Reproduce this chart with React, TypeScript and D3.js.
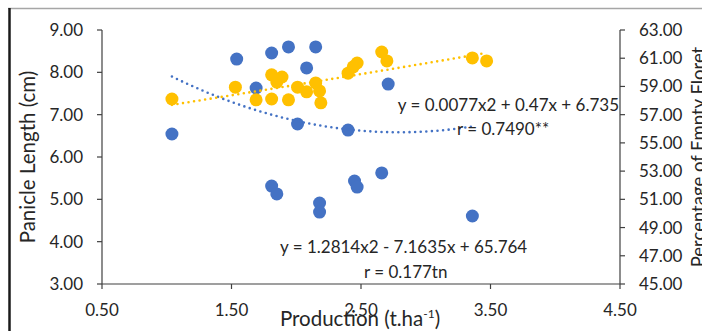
import React from "react";
import * as d3 from "d3";

// Panicle length (left axis, yellow)
const panicleX = [1.04, 1.53, 1.69, 1.81, 1.81, 1.89, 1.85, 1.94, 2.01, 2.08, 2.15, 2.18, 2.19, 2.40, 2.44, 2.47, 2.66, 2.70, 3.36, 3.47];
const panicleY = [7.37, 7.65, 7.35, 7.94, 7.37, 7.89, 7.77, 7.35, 7.65, 7.54, 7.75, 7.56, 7.28, 7.98, 8.13, 8.22, 8.48, 8.27, 8.34, 8.27];

// Percentage of empty floret (right axis, blue)
const floretX = [1.04, 1.54, 1.81, 1.94, 2.15, 2.08, 1.69, 2.01, 2.71, 2.40, 1.81, 1.85, 2.18, 2.18, 2.45, 2.47, 2.66, 3.36];
const floretY = [55.63, 60.94, 61.37, 61.8, 61.8, 60.31, 58.89, 56.34, 59.17, 55.91, 51.94, 51.38, 50.74, 50.1, 52.3, 51.87, 52.87, 49.82];

// Trendline coefficients [a, b, c] for a*x^2 + b*x + c
const panicleTrend = [0.0077, 0.47, 6.735];
const floretTrend = [1.2814, -7.1635, 65.764];

const xTicks = [0.5, 1.5, 2.5, 3.5, 4.5];
const leftTicks = [3, 4, 5, 6, 7, 8, 9];
const rightTicks = [45, 47, 49, 51, 53, 55, 57, 59, 61, 63];

const eqPanicle = "y = 0.0077x2 + 0.47x + 6.735";
const rPanicle = "r = 0.7490**";
const eqFloret = "y = 1.2814x2 - 7.1635x + 65.764";
const rFloret = "r = 0.177tn";

const BLUE = "#4472C4";
const YELLOW = "#FFC000";
const AXIS = "#404040";
const TEXT = "#262626";
const FONT = "Lato, 'Open Sans', sans-serif";

export default function App() {
  const x = d3.scaleLinear().domain([0.5, 4.5]).range([102, 620]);
  const yL = d3.scaleLinear().domain([3, 9]).range([284, 30]);
  const yR = d3.scaleLinear().domain([45, 63]).range([284, 30]);

  const quad = (c: number[]) => (v: number) => c[0] * v * v + c[1] * v + c[2];
  const trendPath = (xs: number[], c: number[], ys: d3.ScaleLinear<number, number>) => {
    const lo = d3.min(xs) as number;
    const hi = d3.max(xs) as number;
    const pts = d3.range(0, 101).map((i) => lo + ((hi - lo) * i) / 100);
    const f = quad(c);
    return d3
      .line<number>()
      .x((v) => x(v))
      .y((v) => ys(f(v)))(pts) as string;
  };

  const fs = 17;

  return (
    <svg
      width={702}
      height={331}
      style={{ position: "absolute", left: 0, top: 0, background: "#fff" }}
      fontFamily={FONT}
    >
      <rect x={0} y={0} width={702} height={331} fill="#fff" />
      {/* outer frame */}
      <line x1={8} x2={702} y1={8.5} y2={8.5} stroke="#a6a6a6" strokeWidth={1.5} />
      <line x1={9.5} x2={9.5} y1={8} y2={331} stroke="#1a1a1a" strokeWidth={2.5} />

      {/* axes */}
      <line x1={x(0.5)} x2={x(0.5)} y1={yL(9)} y2={yL(3)} stroke={AXIS} strokeWidth={1.2} />
      <line x1={x(4.5)} x2={x(4.5)} y1={yR(63)} y2={yR(45)} stroke={AXIS} strokeWidth={1.2} />
      <line x1={x(0.5)} x2={x(4.5)} y1={yL(3)} y2={yL(3)} stroke={AXIS} strokeWidth={1.2} />

      {leftTicks.map((t) => (
        <g key={"l" + t}>
          <line x1={x(0.5) - 5} x2={x(0.5)} y1={yL(t)} y2={yL(t)} stroke={AXIS} strokeWidth={1.2} />
          <text x={83} y={yL(t)} dy="0.35em" textAnchor="end" fontSize={fs} fill={TEXT}>
            {t.toFixed(2)}
          </text>
        </g>
      ))}
      {rightTicks.map((t) => (
        <g key={"r" + t}>
          <line x1={x(4.5)} x2={x(4.5) + 5} y1={yR(t)} y2={yR(t)} stroke={AXIS} strokeWidth={1.2} />
          <text x={639} y={yR(t)} dy="0.35em" textAnchor="start" fontSize={fs} fill={TEXT}>
            {t.toFixed(2)}
          </text>
        </g>
      ))}
      {xTicks.map((t) => (
        <g key={"x" + t}>
          <line x1={x(t)} x2={x(t)} y1={yL(3)} y2={yL(3) + 5} stroke={AXIS} strokeWidth={1.2} />
          <text x={x(t)} y={316} textAnchor="middle" fontSize={fs} fill={TEXT}>
            {t.toFixed(2)}
          </text>
        </g>
      ))}

      {/* axis titles */}
      <text
        transform={`translate(35,157) rotate(-90)`}
        textAnchor="middle"
        fontSize={20.5}
        fill={TEXT}
      >
        Panicle Length (cm)
      </text>
      <text
        transform={`translate(705,157) rotate(-90)`}
        textAnchor="middle"
        fontSize={18.5}
        fill={TEXT}
      >
        Percentage of Empty Floret
      </text>
      <text x={360} y={326} textAnchor="middle" fontSize={20.5} fill={TEXT}>
        Production (t.ha
        <tspan fontSize={12} dy={-8}>-1</tspan>
        <tspan dy={8}>)</tspan>
      </text>

      {/* points */}
      {floretX.map((v, i) => (
        <circle key={"b" + i} cx={x(v)} cy={yR(floretY[i])} r={6.5} fill={BLUE} />
      ))}
      {panicleX.map((v, i) => (
        <circle key={"y" + i} cx={x(v)} cy={yL(panicleY[i])} r={6.5} fill={YELLOW} />
      ))}

      {/* trendlines */}
      <path
        d={trendPath(floretX, floretTrend, yR)}
        fill="none"
        stroke={BLUE}
        strokeWidth={2.6}
        strokeLinecap="round"
        strokeDasharray="0 5.6"
      />
      <path
        d={trendPath(panicleX, panicleTrend, yL)}
        fill="none"
        stroke={YELLOW}
        strokeWidth={2.6}
        strokeLinecap="round"
        strokeDasharray="0 5.6"
      />

      {/* equations */}
      <text x={619} y={111} textAnchor="end" fontSize={fs} fill={TEXT}>
        {eqPanicle}
      </text>
      <text x={457} y={135} textAnchor="start" fontSize={fs} fill={TEXT}>
        {rPanicle}
      </text>
      <text x={280} y={253} textAnchor="start" fontSize={fs} fill={TEXT}>
        {eqFloret}
      </text>
      <text x={364} y={278} textAnchor="start" fontSize={fs} fill={TEXT}>
        {rFloret}
      </text>
    </svg>
  );
}
